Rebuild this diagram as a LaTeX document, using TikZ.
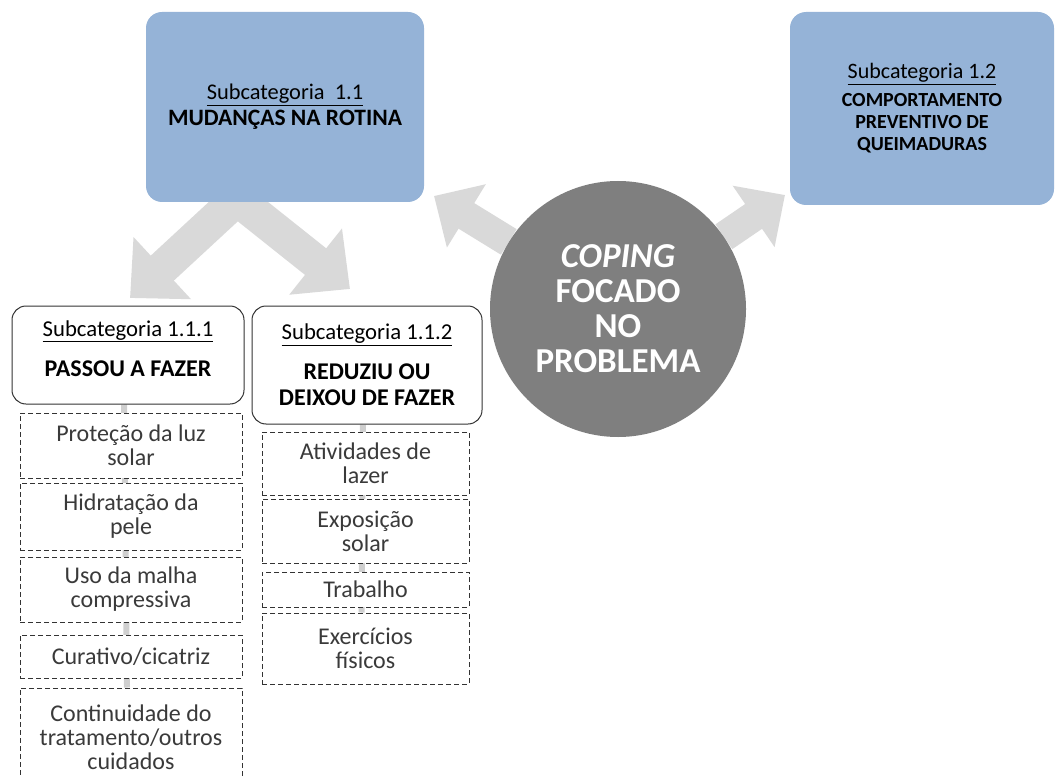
\documentclass[tikz,border=0pt]{standalone}
\usepackage{fontspec}
\setmainfont{Carlito}
\usetikzlibrary{arrows.meta,positioning,backgrounds}
\definecolor{subblue}{HTML}{95B3D7}
\definecolor{coregray}{HTML}{7F7F7F}
\definecolor{arrowgray}{HTML}{D9D9D9}
\definecolor{trailgray}{HTML}{CFCFCF}
\definecolor{itemtext}{HTML}{3A3A3A}
\newcommand{\subline}[2]{{\fontsize{#1}{24}\selectfont\underline{#2}}}
\tikzset{subcat/.style={rounded corners=16pt, fill=subblue, align=center, inner sep=0pt,
                        font=\fontsize{20}{22}\selectfont},
        header/.style={draw=black!80, line width=1pt, rounded corners=14pt, fill=white,
                       align=center, inner sep=0pt, font=\fontsize{24}{26}\selectfont},
        item/.style={draw=black!80, line width=1pt, dash pattern=on 5pt off 3pt, fill=white,
                     align=center, inner sep=0pt, text=itemtext,
                     font=\fontsize{24}{24}\selectfont},
        core/.style={circle, fill=coregray, minimum size=256pt, inner sep=0pt, align=center,
                     text=white, font=\fontsize{35}{35}\selectfont\bfseries},
        bigarrow/.style={draw=arrowgray, line width=30pt, -{Triangle[width=72pt,length=38pt]}},
        splitarrow/.style={draw=arrowgray, line width=34pt, line join=miter,
                           {Triangle[width=82pt,length=44pt]}-{Triangle[width=82pt,length=44pt]}},
        trail/.style={draw=trailgray, line width=6pt},
        }

\begin{document}
\begin{tikzpicture}[x=1pt,y=-1pt]
    \useasboundingbox (0,0) rectangle (1057,778);

    % subcategories
    \node [subcat, minimum width=278pt, minimum height=190pt] (routine) at (285,107)
        {\subline{22.4}{Subcategoria\ \ 1.1}\\[4pt] {\fontsize{23.5}{24}\selectfont\bfseries MUDANÇAS NA ROTINA}};
    \node [subcat, minimum width=264pt, minimum height=193pt] (prevent) at (922,108.5)
        {\subline{22}{Subcategoria 1.2}\\[6pt] \textbf{COMPORTAMENTO}\\ \textbf{PREVENTIVO DE}\\ \textbf{QUEIMADURAS}};

    \node [core] (core) at (618,309) {\textit{COPING}\\FOCADO\\NO\\PROBLEMA};

    \node [header, minimum width=232pt, minimum height=98pt] (doing) at (128,355)
        {\subline{22.7}{Subcategoria 1.1.1}\\[14pt] \textbf{PASSOU A FAZER}\\[-13pt]\mbox{}};
    \node [header, minimum width=230pt, minimum height=118pt] (reducing) at (367,365)
        {\subline{22.7}{Subcategoria 1.1.2}\\[14pt] \textbf{REDUZIU OU}\\ \textbf{DEIXOU DE FAZER}};

    % passou a fazer
    \node [item, minimum width=222pt, minimum height=65pt] (sunlight) at (131,445.5) {Proteção da luz\\solar};
    \node [item, minimum width=222pt, minimum height=67pt] (skin) at (131,516.5) {Hidratação da\\pele};
    \node [item, minimum width=222pt, minimum height=65pt] (garment) at (131,589.5) {Uso da malha\\compressiva};
    \node [item, minimum width=222pt, minimum height=43pt] (dressing) at (131,656.5) {Curativo/cicatriz};
    \node [item, minimum width=222pt, minimum height=98pt] (followup) at (131,737)
        {Continuidade do\\tratamento/outros\\cuidados};

    % reduziu ou deixou de fazer
    \node [item, minimum width=207pt, minimum height=63pt] (leisure) at (365.5,463.5) {Atividades de\\lazer};
    \node [item, minimum width=207pt, minimum height=64pt] (sunexposure) at (365.5,531) {Exposição\\solar};
    \node [item, minimum width=207pt, minimum height=35pt] (work) at (365.5,589.5) {Trabalho};
    \node [item, minimum width=207pt, minimum height=71pt] (exercise) at (365.5,648.5) {Exercícios\\físicos};

    \coordinate (tipA) at (434,196);
    \coordinate (tipB) at (785,195);
    \coordinate (split) at (237,199);
    \coordinate (tipL) at (130,298);
    \coordinate (tipR) at (350,289);

    \begin{scope}[on background layer]
        \draw [bigarrow] (core) -- (tipA);
        \draw [bigarrow] (core) -- (tipB);
        \draw [splitarrow] (tipL) -- (split) -- (tipR);
        \draw [trail] ([xshift=-4pt]doing.south) -- ([xshift=-4pt]followup.north);
        \draw [trail] ([xshift=-4pt]reducing.south) -- ([xshift=-4pt]exercise.north);
    \end{scope}
\end{tikzpicture}
\end{document}
